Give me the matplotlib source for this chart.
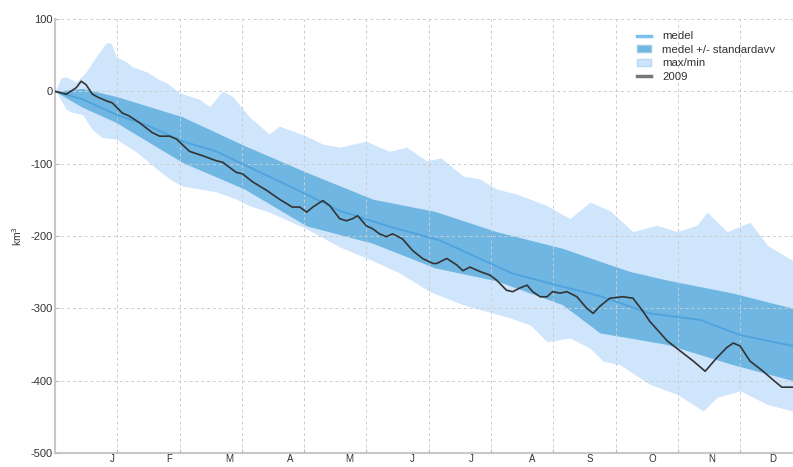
import matplotlib
matplotlib.use("Agg")
import matplotlib.pyplot as plt
from matplotlib.patches import Patch
from matplotlib.lines import Line2D
import numpy as np

plt.rcParams["font.family"] = ["Liberation Sans", "DejaVu Sans"]
plt.rcParams["axes.unicode_minus"] = False

# x in months from 1 January, y in km3
mean_x = [0, 0.44, 0.98, 1.51, 2.04, 2.59, 3.0, 3.76, 4.57, 5.37, 6.18, 6.66, 7.35, 8.15, 8.75, 9.55, 10.36, 11.0, 11.85]
mean_y = [0, -11, -32, -48, -69, -83, -100, -131, -165, -187, -206, -225, -252, -270, -283, -307, -316, -337, -352]

sd_x = [0, 0.44, 0.98, 2.04, 3.04, 4.04, 5.1, 6.1, 7.09, 8.15, 8.75, 9.23, 9.83, 10.89, 11.85]
sd_upper = [0, 4, -7, -35, -75, -112, -149, -166, -194, -217, -235, -249, -261, -279, -300]
sd_lower = [0, -22, -43, -98, -135, -186, -210, -244, -262, -295, -334, -341, -350, -378, -400]

max_x = [0, 0.10, 0.18, 0.34, 0.50, 0.66, 0.82, 0.90, 0.98, 1.14, 1.24, 1.47, 1.68, 1.79, 2.00,
         2.32, 2.48, 2.69, 2.85, 3.12, 3.44, 3.60, 4.04, 4.30, 4.57, 5.00, 5.37, 5.64, 5.97,
         6.2, 6.55, 6.82, 7.09, 7.41, 7.63, 7.90, 8.27, 8.59, 8.91, 9.28, 9.66, 9.99, 10.31,
         10.47, 10.79, 11.16, 11.44, 11.85]
max_y = [0, 19, 20, 13, 27, 48, 67, 67, 48, 41, 34, 27, 16, 12, -2,
         -11, -21, 0, -7, -35, -59, -48, -62, -73, -77, -69, -83, -77, -96,
         -92, -117, -121, -135, -142, -149, -158, -176, -153, -165, -194, -185, -194, -185,
         -167, -194, -181, -213, -234]

min_x = [0, 0.02, 0.18, 0.28, 0.44, 0.60, 0.76, 0.98, 1.31, 1.63, 1.84, 2.04, 2.32, 2.59, 2.91,
         3.12, 3.44, 4.04, 4.57, 5.10, 5.53, 6.02, 6.55, 7.30, 7.63, 7.90, 8.27, 8.59, 8.80,
         9.07, 9.55, 9.99, 10.41, 10.63, 11.00, 11.21, 11.44, 11.85]
min_y = [0, -1, -25, -29, -32, -53, -64, -66, -84, -107, -121, -131, -135, -139, -149,
         -158, -167, -190, -215, -234, -251, -277, -295, -313, -323, -346, -341, -355, -373,
         -378, -405, -419, -442, -423, -414, -423, -433, -442]

y2009_x = [0, 0.18, 0.34, 0.42, 0.50, 0.60, 0.71, 0.82, 0.92, 1.08, 1.19, 1.35, 1.56, 1.68, 1.84,
           1.95, 2.16, 2.37, 2.59, 2.69, 2.91, 3.01, 3.17, 3.40, 3.60, 3.81, 3.93, 4.04, 4.14,
           4.30, 4.41, 4.57, 4.68, 4.78, 4.86, 5.00, 5.10, 5.21, 5.32, 5.42, 5.58, 5.74, 5.90,
           6.07, 6.13, 6.29, 6.45, 6.55, 6.66, 6.82, 6.98, 7.09, 7.25, 7.35, 7.46, 7.58, 7.67,
           7.79, 7.90, 7.99, 8.11, 8.22, 8.38, 8.54, 8.64, 8.75, 8.91, 9.12, 9.28, 9.44, 9.55,
           9.83, 10.04, 10.25, 10.44, 10.63, 10.79, 10.89, 11.00, 11.16, 11.37, 11.53, 11.67, 11.85]
y2009_y = [0, -4, 5, 14, 9, -4, -9, -13, -16, -30, -34, -43, -57, -62, -62,
           -66, -83, -89, -96, -98, -112, -114, -125, -137, -149, -160, -160, -167, -160,
           -151, -158, -176, -179, -176, -172, -186, -190, -197, -201, -197, -204, -220, -231,
           -238, -238, -231, -240, -248, -243, -249, -254, -261, -275, -277, -272, -268, -277,
           -284, -284, -277, -279, -277, -284, -300, -307, -297, -286, -284, -286, -304, -318,
           -345, -359, -373, -387, -368, -354, -348, -352, -373, -387, -399, -409, -409]

month_labels = ["J", "F", "M", "A", "M", "J", "J", "A", "S", "O", "N", "D"]
label_pos = [0.92, 1.84, 2.80, 3.77, 4.73, 5.74, 6.69, 7.66, 8.59, 9.59, 10.55, 11.52]

c_minmax = "#cfe5fb"
c_sd = "#6fb6e2"
c_mean = "#4ea3de"
c_2009 = "#333333"

fig = plt.figure(figsize=(7.93, 4.67), dpi=100)
ax = fig.add_axes([0.0694, 0.0300, 0.9306, 0.9293])

# put both band edges on one grid so fill_between works
xs = np.linspace(0, 11.85, 600)
ax.fill_between(xs, np.interp(xs, min_x, min_y), np.interp(xs, max_x, max_y),
                color=c_minmax, lw=0, zorder=1)
ax.fill_between(xs, np.interp(xs, sd_x, sd_lower), np.interp(xs, sd_x, sd_upper),
                color=c_sd, lw=0, zorder=2)
ax.plot(mean_x, mean_y, color=c_mean, lw=1.3, zorder=3)
ax.plot(y2009_x, y2009_y, color=c_2009, lw=1.2, zorder=4)

ax.set_xlim(0, 11.85)
ax.set_ylim(-500, 100)
ax.set_yticks(range(-500, 101, 100))
ax.set_xticks(range(1, 12))
ax.set_xticklabels([])
ax.set_xticks(label_pos, minor=True)
ax.set_xticklabels(month_labels, minor=True)
ax.tick_params(axis="x", which="minor", length=0, pad=1, labelsize=7, colors="#333333")
ax.tick_params(axis="x", which="major", direction="in", length=3, color="#bbbbbb")
ax.tick_params(axis="y", direction="in", length=3, color="#bbbbbb", labelsize=8,
               labelcolor="#333333", pad=2)

ax.grid(True, which="major", linestyle=(0, (3, 3)), color="#cccccc", lw=0.7)
ax.set_axisbelow(False)
for s in ["top", "right"]:
    ax.spines[s].set_visible(False)
for s in ["left", "bottom"]:
    ax.spines[s].set_color("#c8c8c8")
    ax.spines[s].set_linewidth(1.5)

ax.set_ylabel("km$^3$", fontsize=7.5, color="#333333", labelpad=4)

handles = [
    Line2D([], [], color="#7cc0ec", lw=2.5),
    Patch(facecolor=c_sd, edgecolor="#9ccbe8"),
    Patch(facecolor=c_minmax, edgecolor="#b6d8f5"),
    Line2D([], [], color="#777777", lw=2.5),
]
ax.legend(handles, ["medel", "medel +/- standardavv", "max/min", "2009"],
          loc="upper right", bbox_to_anchor=(0.99, 0.995), frameon=False, fontsize=8.2,
          handlelength=1.2, handleheight=0.6, labelspacing=0.3, handletextpad=1.0,
          labelcolor="#333333")

fig.savefig("out.png", dpi=100)
